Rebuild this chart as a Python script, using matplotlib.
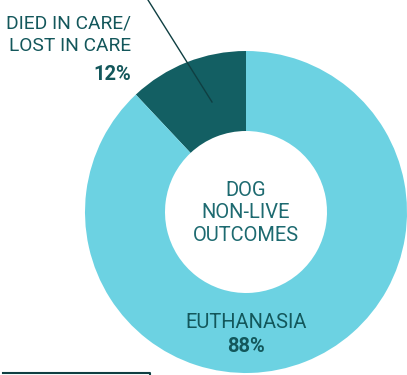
import matplotlib.pyplot as plt

# Dog non-live outcomes
labels = ['DIED IN CARE/\nLOST IN CARE', 'EUTHANASIA']
shares = [12, 88]
colors = ['#135f63', '#6cd2e2']
text_dark = '#13575b'

H = 375
fig = plt.figure(figsize=(4.07, 3.75), dpi=100)
ax = fig.add_axes([0, 0, 1, 1])

ax.pie(shares, colors=colors, startangle=90, counterclock=True,
       center=(246, H - 212), radius=161,
       wedgeprops=dict(width=80, linewidth=0), frame=True)
ax.set_xlim(0, 407)
ax.set_ylim(0, H)
ax.set_aspect('auto')
ax.axis('off')

font = 'Roboto'
# center label
ax.text(246, H - 213, 'DOG\nNON-LIVE\nOUTCOMES', ha='center', va='center',
        fontsize=14.5, color='#1d6a70', family=font, linespacing=1.25)

# euthanasia label
ax.text(246, H - 322, labels[1], ha='center', va='center',
        fontsize=14.5, color=text_dark, family=font)
ax.text(246, H - 347, f'{shares[1]}%', ha='center', va='center',
        fontsize=14.5, color=text_dark, family=font, fontweight='bold')

# died label
ax.text(131, H - 35, labels[0], ha='right', va='center',
        fontsize=13.8, color=text_dark, family=font, linespacing=1.3)
ax.text(131, H - 74, f'{shares[0]}%', ha='right', va='center',
        fontsize=14.5, color=text_dark, family=font, fontweight='bold')

# leader line
ax.plot([148, 212], [H - 0, H - 102], color='#0f3f42', lw=1)
# bottom rule
ax.plot([3, 150, 150], [H - 373, H - 373, H - 376], color='#0f3f42', lw=1.5)

fig.savefig('out.png', dpi=100)
